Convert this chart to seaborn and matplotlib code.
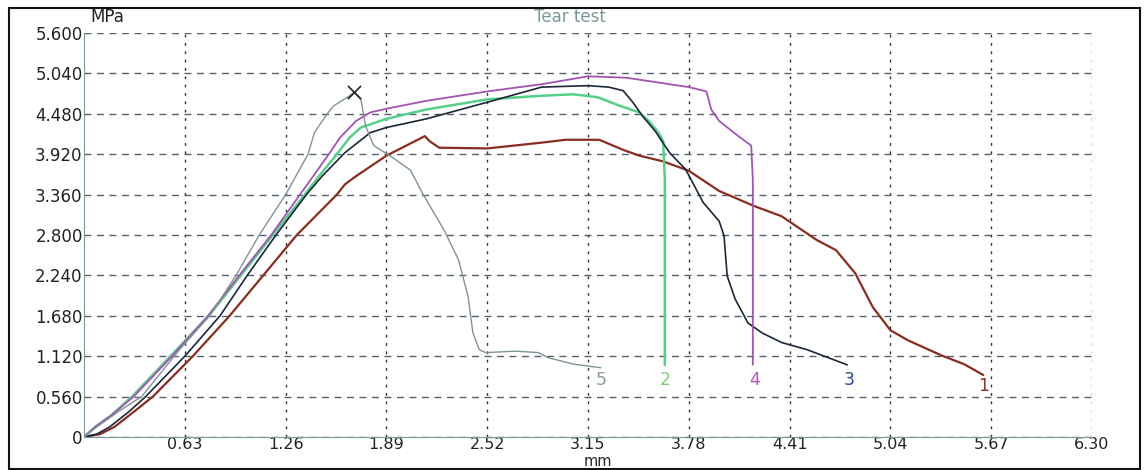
import numpy as np
import matplotlib
matplotlib.use("Agg")
import matplotlib.pyplot as plt
from matplotlib.patches import Rectangle
from matplotlib.ticker import MultipleLocator, FixedLocator
import seaborn as sns

# Tear test curves (x in mm, y in MPa)
x1 = [0, 0.10, 0.19, 0.30, 0.43, 0.68, 0.91, 1.12, 1.33, 1.58, 1.63, 1.69, 1.89, 2.13, 2.16, 2.22, 2.52,
      2.86, 3.01, 3.22, 3.37, 3.47, 3.62, 3.78, 3.97, 4.19, 4.36, 4.58, 4.70, 4.82, 4.93, 5.04, 5.15,
      5.36, 5.50, 5.62]
y1 = [0, 0.04, 0.14, 0.33, 0.56, 1.12, 1.68, 2.24, 2.80, 3.36, 3.50, 3.60, 3.90, 4.17, 4.10, 4.01, 4.00,
      4.08, 4.12, 4.12, 3.98, 3.90, 3.82, 3.69, 3.41, 3.20, 3.06, 2.73, 2.59, 2.27, 1.80, 1.48, 1.34,
      1.13, 1.01, 0.86]

x2 = [0, 0.07, 0.17, 0.30, 0.54, 0.78, 0.98, 1.18, 1.38, 1.47, 1.58, 1.66, 1.73, 1.89, 2.14, 2.52, 2.86,
      3.06, 3.21, 3.35, 3.47, 3.53, 3.59, 3.62, 3.63, 3.63]
y2 = [0, 0.14, 0.30, 0.56, 1.12, 1.68, 2.24, 2.80, 3.36, 3.62, 3.92, 4.15, 4.29, 4.41, 4.54, 4.68, 4.73,
      4.75, 4.71, 4.59, 4.50, 4.38, 4.22, 4.10, 3.57, 1.00]

x3 = [0, 0.08, 0.16, 0.28, 0.385, 0.63, 0.85, 1.02, 1.20, 1.39, 1.49, 1.63, 1.79, 1.89, 2.14, 2.52, 2.86,
      3.15, 3.28, 3.37, 3.43, 3.49, 3.57, 3.66, 3.76, 3.87, 3.97, 4.00, 4.02, 4.07, 4.15, 4.24, 4.36,
      4.52, 4.77]
y3 = [0, 0.04, 0.14, 0.35, 0.56, 1.12, 1.68, 2.24, 2.80, 3.36, 3.62, 3.94, 4.22, 4.29, 4.41, 4.64, 4.85,
      4.87, 4.85, 4.80, 4.64, 4.45, 4.24, 3.94, 3.71, 3.25, 2.99, 2.79, 2.23, 1.91, 1.58, 1.44, 1.31,
      1.21, 1.00]

x4 = [0, 0.07, 0.17, 0.31, 0.55, 0.775, 0.97, 1.17, 1.35, 1.44, 1.53, 1.60, 1.70, 1.79, 1.89, 2.14, 2.52,
      2.86, 3.15, 3.39, 3.57, 3.78, 3.89, 3.92, 3.97, 4.09, 4.17, 4.18, 4.18]
y4 = [0, 0.14, 0.30, 0.56, 1.12, 1.68, 2.24, 2.80, 3.36, 3.64, 3.92, 4.15, 4.38, 4.50, 4.55, 4.66, 4.79,
      4.89, 5.00, 4.98, 4.92, 4.85, 4.79, 4.54, 4.38, 4.17, 4.04, 3.57, 1.00]

x5 = [0, 0.08, 0.22, 0.36, 0.60, 0.785, 0.95, 1.095, 1.26, 1.40, 1.44, 1.52, 1.56, 1.64, 1.69, 1.73, 1.76,
      1.81, 1.91, 2.04, 2.12, 2.25, 2.34, 2.40, 2.43, 2.47, 2.51, 2.70, 2.84, 2.90, 3.06, 3.23]
y5 = [0, 0.14, 0.36, 0.56, 1.22, 1.68, 2.24, 2.80, 3.36, 3.92, 4.22, 4.48, 4.59, 4.70, 4.78, 4.68, 4.31,
      4.04, 3.90, 3.70, 3.36, 2.87, 2.46, 1.95, 1.45, 1.21, 1.17, 1.19, 1.17, 1.10, 1.01, 0.96]

curve_names = ["1", "2", "3", "4", "5"]
label_x = [5.62, 3.63, 4.78, 4.19, 3.23]
label_y = [0.71, 0.79, 0.79, 0.79, 0.79]
break_x = [1.69]
break_y = [4.78]

x_ticks = [0.63, 1.26, 1.89, 2.52, 3.15, 3.78, 4.41, 5.04, 5.67, 6.30]
y_ticks = [0, 0.56, 1.12, 1.68, 2.24, 2.80, 3.36, 3.92, 4.48, 5.04, 5.60]

line_colors = ["#8a2c1e", "#55d08a", "#1b2638", "#a453b4", "#7f9595"]
text_colors = ["#8a3a2a", "#7ad07a", "#2a4a9a", "#c050c0", "#8fa0a0"]

sns.set_style("white")
plt.rcParams['font.family'] = ['DejaVu Sans']

fig = plt.figure(figsize=(11.45, 4.70), dpi=100)
ax = fig.add_axes([0.0734, 0.0702, 0.8803, 0.8596])

curves = [(x1, y1), (x2, y2), (x3, y3), (x4, y4), (x5, y5)]
widths = [1.6, 1.8, 1.2, 1.3, 1.0]
for (xs, ys), c, w in zip(curves, line_colors, widths):
    sns.lineplot(x=xs, y=ys, sort=False, estimator=None, color=c, lw=w, ax=ax, zorder=3)

sns.scatterplot(x=break_x, y=break_y, marker="x", s=90, color="#222222", linewidth=1.2, ax=ax, zorder=4)

for name, lx, ly, tc in zip(curve_names, label_x, label_y, text_colors):
    ax.text(lx, ly, name, color=tc, fontsize=12.5, ha="center", va="center")

ax.set_xlim(0, 6.30)
ax.set_ylim(0, 5.60)
ax.xaxis.set_major_locator(FixedLocator(x_ticks))
ax.yaxis.set_major_locator(FixedLocator(y_ticks))
ax.xaxis.set_minor_locator(MultipleLocator(0.063))
ax.yaxis.set_minor_locator(MultipleLocator(0.28))
ax.set_xticklabels([f"{v:.2f}" for v in x_ticks])
ax.set_yticklabels(["0"] + [f"{v:.3f}" for v in y_ticks[1:]])

ax.tick_params(axis="both", which="major", labelsize=12, colors="#222222", length=4, direction="in")
ax.tick_params(axis="x", which="major", labelsize=11.5, pad=0)
ax.tick_params(axis="both", which="minor", length=3, direction="in", color="#7a9a9a")
ax.tick_params(axis="y", pad=1)

ax.xaxis.grid(True, which="major", color="#333333", linestyle=(0, (2, 4)), lw=1.0)
ax.yaxis.grid(True, which="major", color="#556070", linestyle=(0, (5, 4)), lw=1.0)
ax.set_axisbelow(True)

for side in ["top", "right"]:
    ax.spines[side].set_visible(False)
ax.spines["left"].set_color("#7a9a9a")
ax.spines["bottom"].set_color("#7a9a9a")

ax.set_xlabel("")
ax.set_ylabel("")
fig.text(0.522, 0.003, "mm", fontsize=10.5, color="#222222", ha="center", va="bottom")
fig.text(0.079, 0.945, "MPa", fontsize=12, color="#222222", ha="left", va="bottom")
fig.text(0.498, 0.945, "Tear test", fontsize=12, color="#7a9a9a", ha="center", va="bottom")

fig.patches.append(Rectangle((0.008, 0.003), 0.988, 0.980, transform=fig.transFigure,
                             fill=False, edgecolor="#111111", lw=1.5))

fig.savefig("out.png", dpi=100)
